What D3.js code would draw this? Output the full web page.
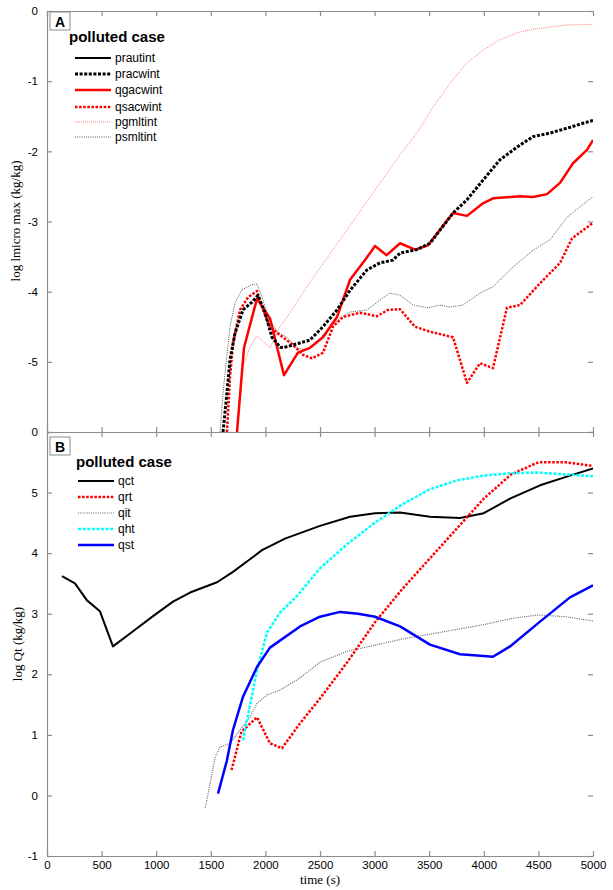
<!DOCTYPE html>
<html><head><meta charset="utf-8">
<script src="https://cdn.jsdelivr.net/npm/d3@7"></script>
<style>body{margin:0;background:#fff}svg{display:block}</style>
</head><body><svg id="c" width="613" height="890"></svg>
<script>
// ---------- DATA ----------
const xTicks = [0,500,1000,1500,2000,2500,3000,3500,4000,4500,5000];
const topTicks = [0,-1,-2,-3,-4,-5,-6];
const topTickLabels = ["0","-1","-2","-3","-4","-5","0"];
const botTicks = [-1,0,1,2,3,4,5,6];
const botTickLabels = ["-1","0","1","2","3","4","5",""];

// panel A
const prautintT = [];
const prautintV = [];
const pracwintT = [1612,1648,1676,1722,1795,1877,1932,1996,2060,2134,2161,2408,2527,2656,2775,2930,3049,3168,3233,3388,3507,3718,3846,3993,4148,4304,4451,4606,4762,4908,5000];
const pracwintV = [-6.0,-5.44,-4.97,-4.59,-4.26,-4.15,-4.05,-4.30,-4.65,-4.79,-4.80,-4.69,-4.50,-4.26,-3.98,-3.69,-3.59,-3.55,-3.45,-3.40,-3.31,-2.88,-2.69,-2.41,-2.12,-1.94,-1.79,-1.74,-1.67,-1.60,-1.56];
const qgacwintT = [1740,1804,1923,2042,2170,2298,2408,2527,2656,2775,2912,3004,3110,3233,3370,3489,3718,3846,3993,4084,4332,4451,4579,4698,4817,4945,5000];
const qgacwintV = [-6.0,-4.80,-4.10,-4.38,-5.19,-4.87,-4.80,-4.65,-4.36,-3.83,-3.55,-3.35,-3.48,-3.31,-3.40,-3.34,-2.88,-2.92,-2.74,-2.67,-2.64,-2.65,-2.61,-2.45,-2.17,-1.98,-1.84];
const qsacwintT = [1648,1676,1704,1767,1841,1923,1978,2042,2134,2253,2344,2427,2527,2619,2711,2866,3022,3123,3233,3370,3507,3718,3846,3965,4084,4212,4332,4515,4698,4808,5000];
const qsacwintV = [-6.0,-5.22,-4.73,-4.26,-4.08,-3.99,-4.26,-4.50,-4.62,-4.76,-4.90,-4.95,-4.87,-4.50,-4.36,-4.30,-4.35,-4.26,-4.25,-4.50,-4.57,-4.65,-5.30,-5.02,-5.09,-4.23,-4.19,-3.88,-3.59,-3.24,-3.02];
const pgmltintT = [1786,1859,1923,2042,2134,2225,2344,2473,2775,3004,3233,3388,3535,3690,3846,3993,4148,4304,4451,4606,4762,5000];
const pgmltintV = [-5.1,-4.79,-4.63,-4.80,-4.50,-4.30,-4.02,-3.72,-3.06,-2.55,-2.05,-1.74,-1.37,-1.03,-0.74,-0.56,-0.41,-0.31,-0.26,-0.23,-0.20,-0.19];
const psmltintT = [1585,1612,1676,1722,1786,1877,1923,1969,2024,2106,2198,2289,2381,2473,2591,2683,2775,2930,3049,3141,3233,3352,3489,3599,3690,3810,3965,4084,4267,4451,4606,4762,4881,5000];
const psmltintV = [-6.0,-5.44,-4.50,-4.16,-3.97,-3.90,-3.89,-4.07,-4.36,-4.57,-4.65,-4.80,-4.83,-4.72,-4.50,-4.38,-4.29,-4.26,-4.12,-4.02,-4.05,-4.19,-4.23,-4.19,-4.22,-4.19,-4.02,-3.93,-3.65,-3.41,-3.26,-2.94,-2.79,-2.65];

// panel B
const qctT = [137,256,366,485,604,788,971,1154,1310,1557,1703,1859,1969,2179,2500,2775,3004,3233,3507,3782,4000,4240,4515,4789,5000];
const qctV = [3.62,3.50,3.22,3.04,2.46,2.71,2.96,3.20,3.35,3.52,3.69,3.90,4.05,4.24,4.45,4.60,4.66,4.67,4.60,4.58,4.66,4.90,5.12,5.28,5.40];
const qrtT = [1690,1780,1923,2042,2152,2317,2500,2750,3000,3250,3500,3750,4000,4250,4500,4750,5000];
const qrtV = [0.42,1.05,1.29,0.86,0.78,1.19,1.6,2.2,2.85,3.4,3.9,4.4,4.9,5.3,5.5,5.5,5.44];
const qitT = [1450,1540,1585,1676,1767,1859,1923,2015,2134,2317,2500,2750,3000,3250,3500,3750,4000,4250,4500,4750,5000];
const qitV = [-0.2,0.63,0.80,0.86,1.08,1.29,1.52,1.66,1.74,1.94,2.2,2.38,2.48,2.58,2.66,2.74,2.82,2.92,2.98,2.95,2.88];
const qhtT = [1795,1923,2015,2134,2289,2500,2750,3000,3250,3500,3750,4000,4250,4500,4750,5000];
const qhtV = [0.91,2.07,2.69,3.02,3.29,3.75,4.15,4.5,4.8,5.05,5.2,5.28,5.32,5.33,5.3,5.27];
const qstT = [1566,1648,1703,1795,1923,2042,2317,2500,2683,2850,3004,3233,3507,3782,4000,4084,4240,4515,4789,5000];
const qstV = [0.03,0.58,1.08,1.63,2.12,2.44,2.79,2.95,3.03,3.0,2.95,2.79,2.49,2.33,2.30,2.29,2.46,2.87,3.27,3.47];

const seriesA = [
  {name:"prautint", t:prautintT, v:prautintV},
  {name:"pracwint", t:pracwintT, v:pracwintV},
  {name:"qgacwint", t:qgacwintT, v:qgacwintV},
  {name:"qsacwint", t:qsacwintT, v:qsacwintV},
  {name:"pgmltint", t:pgmltintT, v:pgmltintV},
  {name:"psmltint", t:psmltintT, v:psmltintV}
];
const seriesB = [
  {name:"qct", t:qctT, v:qctV},
  {name:"qrt", t:qrtT, v:qrtV},
  {name:"qit", t:qitT, v:qitV},
  {name:"qht", t:qhtT, v:qhtV},
  {name:"qst", t:qstT, v:qstV}
];

// ---------- STYLES ----------
const styleOf = {
  prautint:{c:"#000", w:2, d:null},
  pracwint:{c:"#000", w:3, d:"3,1.6"},
  qgacwint:{c:"#ff0000", w:2.5, d:null},
  qsacwint:{c:"#ff0000", w:2.5, d:"2.5,1.6"},
  pgmltint:{c:"#ff8080", w:1, d:"1,1"},
  psmltint:{c:"#555", w:1, d:"1,1.2"},
  qct:{c:"#000", w:2, d:null},
  qrt:{c:"#ff0000", w:2.5, d:"2.5,1.6"},
  qit:{c:"#666", w:1.2, d:"1,1.2"},
  qht:{c:"#00ffff", w:2.5, d:"3,1.6"},
  qst:{c:"#0000ff", w:2.5, d:null}
};

// ---------- LAYOUT ----------
const svg = d3.select("#c");
const X0=47, X1=593, YA0=11, YA1=432, YB0=432, YB1=856;
const x = d3.scaleLinear().domain([0,5000]).range([X0,X1]);
const yA = d3.scaleLinear().domain([-6,0]).range([YA1,YA0]);
const yB = d3.scaleLinear().domain([-1,6]).range([YB1,YB0]);
const axisCol = "#8c8c8c";
const tickFont = "'Liberation Sans', Arial, sans-serif";

const defs = svg.append("defs");
defs.append("clipPath").attr("id","clipA").append("rect").attr("x",X0).attr("y",YA0).attr("width",X1-X0).attr("height",YA1-YA0);
defs.append("clipPath").attr("id","clipB").append("rect").attr("x",X0).attr("y",YB0).attr("width",X1-X0).attr("height",YB1-YB0);

function styleAxis(g, showDomain){
  g.selectAll("path.domain").attr("stroke", showDomain?axisCol:"none").attr("stroke-width",1.2);
  g.selectAll(".tick line").attr("stroke",axisCol).attr("stroke-width",1.2);
  g.selectAll(".tick text").attr("fill","#000").style("font-family",tickFont).style("font-size","11.5px");
}

// Panel A axes
svg.append("g").attr("transform",`translate(${X0},0)`)
  .call(d3.axisLeft(yA).tickValues(topTicks).tickSize(-5).tickSizeOuter(0).tickPadding(9)
    .tickFormat((d,i)=>topTickLabels[i])).call(g=>styleAxis(g,true));
svg.append("g").attr("transform",`translate(${X1},0)`)
  .call(d3.axisRight(yA).tickValues(topTicks).tickSize(-5).tickSizeOuter(0).tickFormat(""))
  .call(g=>styleAxis(g,false));
svg.append("g").attr("transform",`translate(0,${YA0})`)
  .call(d3.axisTop(x).tickValues(xTicks).tickSize(-5).tickSizeOuter(0).tickFormat(""))
  .call(g=>styleAxis(g,true));
svg.append("g").attr("transform",`translate(0,${YA1})`)
  .call(d3.axisBottom(x).tickValues(xTicks).tickSize(-5).tickSizeOuter(0).tickFormat(""))
  .call(g=>styleAxis(g,true));

// Panel B axes
svg.append("g").attr("transform",`translate(${X0},0)`)
  .call(d3.axisLeft(yB).tickValues(botTicks).tickSize(-5).tickSizeOuter(0).tickPadding(9)
    .tickFormat((d,i)=>botTickLabels[i])).call(g=>styleAxis(g,true));
svg.append("g").attr("transform",`translate(${X1},0)`)
  .call(d3.axisRight(yB).tickValues(botTicks).tickSize(-5).tickSizeOuter(0).tickFormat(""))
  .call(g=>styleAxis(g,false));
svg.append("g").attr("transform",`translate(0,${YB0})`)
  .call(d3.axisTop(x).tickValues(xTicks).tickSize(-5).tickSizeOuter(0).tickFormat(""))
  .call(g=>styleAxis(g,true));
svg.append("g").attr("transform",`translate(0,${YB1})`)
  .call(d3.axisBottom(x).tickValues(xTicks).tickSize(-5).tickSizeOuter(0).tickPadding(5)
    .tickFormat(d3.format("d")))
  .call(g=>styleAxis(g,true));

// lines
function drawSeries(list, y, clip){
  const line = d3.line().x(d=>x(d[0])).y(d=>y(d[1]));
  const g = svg.append("g").attr("clip-path",`url(#${clip})`);
  list.forEach(s=>{
    if(!s.t.length) return;
    const st = styleOf[s.name];
    g.append("path").datum(s.t.map((t,i)=>[t,s.v[i]]))
      .attr("d",line).attr("fill","none").attr("stroke",st.c).attr("stroke-width",st.w)
      .attr("stroke-dasharray",st.d).attr("stroke-linejoin","round");
  });
}
drawSeries([seriesA[5],seriesA[4],seriesA[0],seriesA[3],seriesA[2],seriesA[1]], yA, "clipA");
drawSeries([seriesB[2],seriesB[0],seriesB[1],seriesB[3],seriesB[4]], yB, "clipB");

// panel labels
function panelLabel(txt, x0, y0){
  svg.append("rect").attr("x",x0).attr("y",y0).attr("width",20).attr("height",18)
    .attr("fill","#fff").attr("stroke",axisCol).attr("stroke-width",1);
  svg.append("text").attr("x",x0+10).attr("y",y0+14.5).attr("text-anchor","middle")
    .style("font-family",tickFont).style("font-weight","bold").style("font-size","14px").text(txt);
}
panelLabel("A",50,12);
panelLabel("B",50,437);

// legends
function legend(list, tx, ty, lx0, lx1, txx, ys){
  svg.append("text").attr("x",tx).attr("y",ty).style("font-family",tickFont)
    .style("font-weight","bold").style("font-size","15px").text("polluted case");
  list.forEach((s,i)=>{
    const st = styleOf[s.name];
    svg.append("line").attr("x1",lx0).attr("x2",lx1).attr("y1",ys[i]).attr("y2",ys[i])
      .attr("stroke",st.c).attr("stroke-width",st.w).attr("stroke-dasharray",st.d);
    svg.append("text").attr("x",txx).attr("y",ys[i]+4).style("font-family",tickFont)
      .style("font-size","12px").text(s.name);
  });
}
legend(seriesA, 69, 42, 75, 111, 115, [58,74,90,107,122,137]);
legend(seriesB, 76, 467, 78, 114, 118, [481,497,513,529,545]);

// axis titles
const serif = "'Liberation Serif','Times New Roman',serif";
svg.append("text").attr("transform","translate(20,221) rotate(-90)").attr("text-anchor","middle")
  .style("font-family",serif).style("font-size","13px").text("log lmicro max (kg/kg)");
svg.append("text").attr("transform","translate(22,644) rotate(-90)").attr("text-anchor","middle")
  .style("font-family",serif).style("font-size","13px").text("log Qt (kg/kg)");
svg.append("text").attr("x",320).attr("y",884).attr("text-anchor","middle")
  .style("font-family",serif).style("font-size","13px").text("time (s)");
</script></body></html>
